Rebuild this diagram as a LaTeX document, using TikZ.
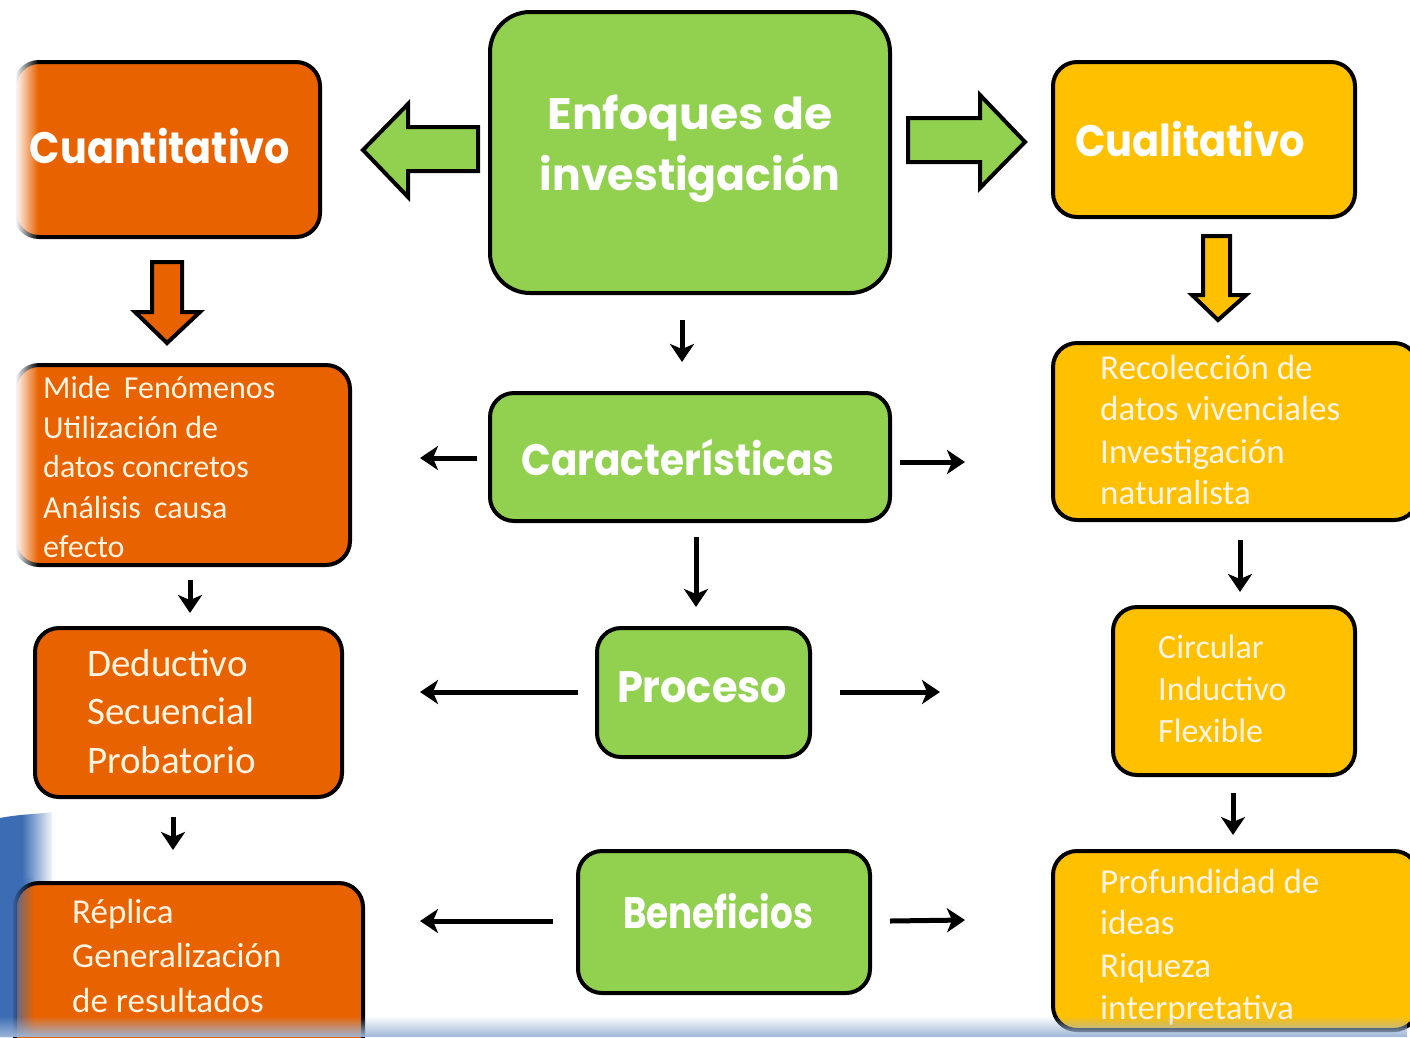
\documentclass[tikz,border=0pt]{standalone}
\usepackage{fontspec}
\setmainfont{Carlito}
\newfontfamily\titlefont{Poppins}
\usepackage{graphicx}
\usetikzlibrary{arrows.meta,fadings}
\definecolor{orng}{HTML}{E96200}
\definecolor{grn}{HTML}{92D050}
\definecolor{yel}{HTML}{FFC000}
\definecolor{cream}{HTML}{FFF4E2}
\definecolor{bgblue}{HTML}{3C6DB4}
\definecolor{stripblue}{HTML}{9DB6D8}
\tikzfading[name=fadeleftw, left color=transparent!0, right color=transparent!100]
\tikzfading[name=faderightw, left color=transparent!100, right color=transparent!0]
\tikzfading[name=fadeupb, top color=transparent!100, bottom color=transparent!0]
\newcommand{\mytitle}[2]{\resizebox{#1}{\height}{\titlefont\bfseries\fontsize{44}{44}\selectfont #2}}
\begin{document}
\begin{tikzpicture}[x=1pt,y=-1pt,
  box/.style={draw=black, line width=4pt, rounded corners=24pt, inner sep=0pt},
  blockarr/.style={draw=black, line width=4pt, line join=miter},
  conn/.style={draw=black, line width=5pt, -{Stealth[length=18pt,width=24pt,inset=5pt]}},
  ttl/.style={text=white, inner sep=0pt, anchor=base},
  bodyt/.style={text=cream, inner sep=0pt, anchor=base west}]
\useasboundingbox (0,0) rectangle (1410,1037);
\clip (0,0) rectangle (1410,1037);
\fill[white] (0,0) rectangle (1410,1037);
% blue background corner
\fill[bgblue] (0,818) .. controls (20,814) and (40,814) .. (52,812) -- (52,1037) -- (0,1037) -- cycle;
\fill[white, path fading=faderightw] (22,805) rectangle (54,1037);

% boxes
\node[box, fill=orng, minimum width=305pt, minimum height=175pt] (cuant) at (167.5,149.5) {};
\node[box, fill=grn, rounded corners=40pt, minimum width=400pt, minimum height=281pt] (enf) at (690,152.5) {};
\node[box, fill=yel, minimum width=302pt, minimum height=155pt] (cual) at (1204,139.5) {};
\node[box, fill=orng, minimum width=335pt, minimum height=200pt] (l2) at (182.5,465) {};
\node[box, fill=yel, minimum width=365pt, minimum height=177pt] (r2) at (1235.5,431.5) {};
\node[box, fill=grn, minimum width=400pt, minimum height=128pt] (car) at (690,457) {};
\node[box, fill=grn, minimum width=213pt, minimum height=129pt] (proc) at (703.5,692.5) {};
\node[box, fill=orng, minimum width=307pt, minimum height=169pt] (l3) at (188.5,712.5) {};
\node[box, fill=yel, minimum width=242pt, minimum height=168pt] (r3) at (1234,691) {};
\node[box, fill=grn, minimum width=292pt, minimum height=142pt] (ben) at (724,922) {};
\node[box, fill=orng, minimum width=348pt, minimum height=177pt] (l4) at (189,971.5) {};
\node[box, fill=yel, minimum width=365pt, minimum height=179pt] (r4) at (1235.5,940.5) {};

% left fades
\fill[white] (0,55) rectangle (16,245);
\fill[white, path fading=fadeleftw] (15,55) rectangle (38,245);
\fill[white] (0,358) rectangle (16,572);
\fill[white, path fading=fadeleftw] (15,358) rectangle (38,572);
\fill[bgblue, path fading=fadeleftw] (10,878) rectangle (34,1037);

% block arrows
\draw[blockarr, fill=grn] (478,127) -- (408,127) -- (408,104) -- (363,150) -- (408,197) -- (408,171) -- (478,171) -- cycle;
\draw[blockarr, fill=grn] (908,118) -- (980,118) -- (980,95) -- (1025,142) -- (980,188) -- (980,162) -- (908,162) -- cycle;
\draw[blockarr, fill=orng] (152,262) -- (182,262) -- (182,312) -- (200,312) -- (167,343) -- (135,312) -- (152,312) -- cycle;
\draw[blockarr, fill=yel] (1203,236) -- (1230,236) -- (1230,295) -- (1246,295) -- (1218,320) -- (1192,295) -- (1203,295) -- cycle;

% titles
\node[ttl] (tcuant) at (160,163) {\mytitle{260pt}{Cuantitativo}};
\node[ttl] (tenf1) at (690,129) {\mytitle{285pt}{Enfoques de}};
\node[ttl] (tenf2) at (690,190) {\mytitle{300pt}{investigación}};
\node[ttl] (tcual) at (1190,156) {\mytitle{230pt}{Cualitativo}};
\node[ttl] (tcar) at (678,475) {\mytitle{313pt}{Características}};
\node[ttl] (tproc) at (702,702) {\mytitle{170pt}{Proceso}};
\node[ttl] (tben) at (718,928) {\mytitle{190pt}{Beneficios}};

% body texts
\begin{scope}[font=\fontsize{32}{38}\selectfont]
\node[bodyt] (l2a) at (43,398) {Mide\hspace{6pt} Fenómenos};
\node[bodyt] (l2b) at (43,438) {Utilización de};
\node[bodyt] (l2c) at (43,477) {datos concretos};
\node[bodyt] (l2d) at (43,518) {Análisis\hspace{6pt} causa};
\node[bodyt] (l2e) at (43,557) {efecto};
\end{scope}
\begin{scope}[font=\fontsize{35}{42}\selectfont]
\node[bodyt] (r2a) at (1100,379) {Recolección de};
\node[bodyt] (r2b) at (1100,420) {datos vivenciales};
\node[bodyt] (r2c) at (1100,463) {Investigación};
\node[bodyt] (r2d) at (1100,504) {naturalista};
\node[bodyt] (l4a) at (72,923) {Réplica};
\node[bodyt] (l4b) at (72,967) {Generalización};
\node[bodyt] (l4c) at (72,1012) {de resultados};
\node[bodyt] (r4a) at (1100,893) {Profundidad de};
\node[bodyt] (r4b) at (1100,934) {ideas};
\node[bodyt] (r4c) at (1100,977) {Riqueza};
\node[bodyt] (r4d) at (1100,1019) {interpretativa};
\end{scope}
\begin{scope}[font=\fontsize{39}{48}\selectfont]
\node[bodyt] (l3a) at (87,676) {Deductivo};
\node[bodyt] (l3b) at (87,724) {Secuencial};
\node[bodyt] (l3c) at (87,773) {Probatorio};
\end{scope}
\begin{scope}[font=\fontsize{34}{42}\selectfont]
\node[bodyt] (r3a) at (1158,658) {Circular};
\node[bodyt] (r3b) at (1158,700) {Inductivo};
\node[bodyt] (r3c) at (1158,742) {Flexible};
\end{scope}

% connectors
\coordinate (a1s) at (682,320); \coordinate (a1e) at (682,362);
\coordinate (a2s) at (477,458); \coordinate (a2e) at (420,458);
\coordinate (a3s) at (900,462); \coordinate (a3e) at (965,462);
\coordinate (a4s) at (696,537); \coordinate (a4e) at (696,607);
\coordinate (a5s) at (578,692); \coordinate (a5e) at (420,692);
\coordinate (a6s) at (840,692); \coordinate (a6e) at (940,692);
\coordinate (a7s) at (553,921); \coordinate (a7e) at (420,921);
\coordinate (a8s) at (890,921); \coordinate (a8e) at (965,920);
\coordinate (a9s) at (190,580); \coordinate (a9e) at (190,613);
\coordinate (a10s) at (173,817); \coordinate (a10e) at (173,850);
\coordinate (a11s) at (1240,540); \coordinate (a11e) at (1240,592);
\coordinate (a12s) at (1233,793); \coordinate (a12e) at (1233,835);
\foreach \i in {1,...,12} {\draw[conn] (a\i s) -- (a\i e);}

% bottom strip
\fill[stripblue, path fading=fadeupb] (0,1016) rectangle (1410,1037);
\end{tikzpicture}
\end{document}
